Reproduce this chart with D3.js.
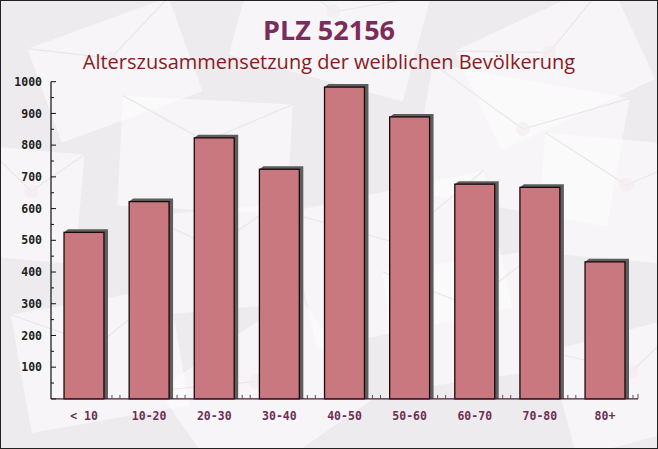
<!DOCTYPE html>
<html><head><meta charset="utf-8">
<script src="https://cdn.jsdelivr.net/npm/d3@7/dist/d3.min.js"></script>
<style>html,body{margin:0;padding:0;background:#fff}svg{display:block}</style>
</head><body>
<script>
const categories = ["< 10","10-20","20-30","30-40","40-50","50-60","60-70","70-80","80+"];
const values = [525, 622, 823, 724, 983, 889, 677, 667, 432];
const yTicks = [100,200,300,400,500,600,700,800,900,1000];
const title = "PLZ 52156";
const subtitle = "Alterszusammensetzung der weiblichen Bevölkerung";

const W = 658, H = 449;
const svg = d3.select("body").append("svg").attr("width", W).attr("height", H);

// background
svg.append("rect").attr("x",0).attr("y",0).attr("width",W).attr("height",H).attr("fill","#eeebee");
// decorative envelopes
const env = [
  {x:40,y:20,w:150,h:100,r:-20},{x:240,y:-30,w:180,h:110,r:15},{x:470,y:10,w:170,h:110,r:-25},
  {x:120,y:100,w:170,h:110,r:3},{x:420,y:80,w:200,h:130,r:10},{x:-20,y:150,w:100,h:110,r:5},
  {x:300,y:190,w:200,h:140,r:-12},{x:540,y:140,w:170,h:120,r:5},{x:20,y:300,w:160,h:120,r:-10},
  {x:180,y:330,w:170,h:130,r:-35},{x:390,y:260,w:160,h:120,r:-8},{x:560,y:330,w:150,h:110,r:-15},
  {x:150,y:210,w:130,h:100,r:-5}
];
const gEnv = svg.append("g");
env.forEach(e => {
  const g = gEnv.append("g").attr("transform", `translate(${e.x+e.w/2},${e.y+e.h/2}) rotate(${e.r})`);
  g.append("rect").attr("x",-e.w/2).attr("y",-e.h/2).attr("width",e.w).attr("height",e.h)
    .attr("fill","#ffffff").attr("opacity",0.5);
  g.append("path").attr("d",`M${-e.w/2},${-e.h/2} L0,${-e.h/8} L${e.w/2},${-e.h/2}`)
    .attr("fill","none").attr("stroke","#ebe6ea").attr("stroke-width",1.2);
  g.append("circle").attr("cx",0).attr("cy",-e.h/8).attr("r",7).attr("fill","#f3ecef").attr("opacity",0.7);
});

// plot area
const x0 = 51, x1 = 638, yTop = 81.7, yBot = 398.9;
const x = d3.scaleBand().domain(categories).range([x0, x1]).paddingInner(0.387).paddingOuter(0.2);
const y = d3.scaleLinear().domain([0, 1000]).range([yBot, yTop]);

// titles
svg.append("text").attr("x",329).attr("y",40).attr("text-anchor","middle")
  .attr("font-family","'Open Sans', 'DejaVu Sans', sans-serif").attr("font-weight","bold")
  .attr("font-size",27).attr("fill","#7a2d5a").text(title);
svg.append("text").attr("x",329).attr("y",69).attr("text-anchor","middle")
  .attr("font-family","'Open Sans', 'DejaVu Sans', sans-serif")
  .attr("font-size",20).attr("fill","#8b1a22").text(subtitle);

// bars
const bw = x.bandwidth();
const dx = 4, dy = 3;
const bars = svg.append("g");
categories.forEach((c, i) => {
  const bx = x(c), by = y(values[i]), bb = y(0);
  bars.append("path")
    .attr("d", `M${bx},${by} L${bx+dx},${by-dy} L${bx+bw+dx},${by-dy} L${bx+bw+dx},${bb} L${bx+bw},${bb} Z`)
    .attr("fill","#5e5e5e");
  bars.append("rect").attr("x",bx).attr("y",by).attr("width",bw).attr("height",bb-by)
    .attr("fill","#c9787f").attr("stroke","#1a0a0a").attr("stroke-width",1.3);
});

// y axis
const yAxis = d3.axisLeft(y).tickValues(yTicks).tickFormat(d3.format("d")).tickSize(0).tickPadding(9);
const ya = svg.append("g").attr("transform",`translate(${x0},0)`).call(yAxis);
ya.select(".domain").remove();
ya.selectAll("text").attr("font-family","'DejaVu Sans Mono', monospace").attr("font-weight","bold")
  .attr("font-size",11.5).attr("fill","#222");
svg.append("line").attr("x1",x0).attr("x2",x0).attr("y1",yTop).attr("y2",yBot).attr("stroke","#111").attr("stroke-width",1.2);
d3.range(0, 1001, 50).forEach(v => {
  const major = v % 100 === 0;
  svg.append("line").attr("x1",x0).attr("x2",x0 + (major ? 5 : 3))
    .attr("y1",y(v)).attr("y2",y(v)).attr("stroke","#111").attr("stroke-width",1);
});

// x axis
const xAxis = d3.axisBottom(x).tickSize(0).tickPadding(13);
const xa = svg.append("g").attr("transform",`translate(0,${yBot})`).call(xAxis);
xa.select(".domain").remove();
xa.selectAll("text").attr("font-family","'DejaVu Sans Mono', monospace").attr("font-weight","bold")
  .attr("font-size",11.5).attr("fill","#6e2f55");
svg.append("line").attr("x1",x0).attr("x2",x1).attr("y1",yBot).attr("y2",yBot).attr("stroke","#4a1a35").attr("stroke-width",1.3);
categories.forEach((c, i) => {
  const bx = x(c) + bw + dx;
  [bx + 4, bx + 12].forEach(tx => {
    if (tx <= x1) svg.append("line").attr("x1",tx).attr("x2",tx).attr("y1",yBot).attr("y2",yBot-4)
      .attr("stroke","#555").attr("stroke-width",1);
  });
});
svg.append("line").attr("x1",x1).attr("x2",x1).attr("y1",yBot).attr("y2",yBot-5).attr("stroke","#555");

// frame
svg.append("rect").attr("x",0.5).attr("y",0.5).attr("width",W-1).attr("height",H-1)
  .attr("fill","none").attr("stroke","#222").attr("stroke-width",1);
</script>
</body></html>
